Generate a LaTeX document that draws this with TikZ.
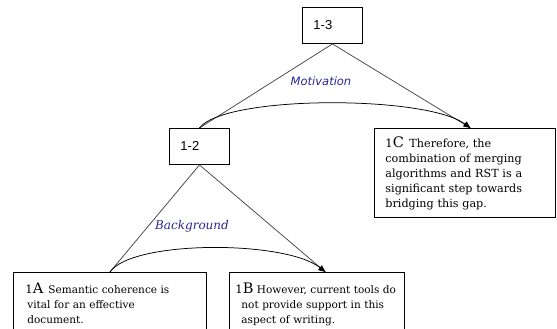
\documentclass[tikz,border=0pt]{standalone}
\usepackage{fontspec}
\setmainfont{DejaVu Serif}
\setsansfont{Liberation Sans}
\newfontfamily\relfont{DejaVu Sans}
\usetikzlibrary{arrows.meta}
\definecolor{relblue}{RGB}{38,38,150}
\definecolor{edgegray}{RGB}{70,70,70}
\tikzstyle{span}=[draw=black,line width=0.9pt,anchor=north west,align=left,text width=38pt,inner xsep=11pt,minimum height=36pt,font=\sffamily\fontsize{13}{13}\selectfont]
\tikzstyle{unit}=[draw=black,line width=0.9pt,anchor=north west,align=left,inner ysep=7pt,font=\fontsize{10.5}{15}\selectfont]
\tikzstyle{satedge}=[draw=edgegray,line width=0.75pt]
\tikzstyle{relarc}=[draw=black,line width=0.75pt,-{Triangle[length=7pt,width=6pt]}]
\tikzstyle{rel}=[text=relblue,inner sep=0pt]
\newcommand{\unitid}[2]{{\fontsize{11.5}{15}\selectfont#1}{\fontsize{14.5}{15}\selectfont #2}}

\begin{document}
\begin{tikzpicture}[x=1pt,y=-1pt]
\useasboundingbox (0,0) rectangle (557,329);
\clip (0,0) rectangle (557,329);
%spans
\node[span] (s13) at (302,7) {1-3};
\node[span] (s12) at (169,128) {1-2};
%units
\node[unit,text width=159pt,inner xsep=11pt,minimum height=89pt,font=\fontsize{11.2}{15}\selectfont] (u1c) at (374,128)
{\unitid{1}{C}\, Therefore, the\\
combination of merging\\
algorithms and RST is a\\
significant step towards\\
bridging this gap.};
\node[unit,text width=169pt,inner xsep=12pt,inner ysep=10pt,text depth=60pt] (u1a) at (13,272)
{\unitid{1}{A}\, Semantic coherence is\\
\hspace{2pt}vital for an effective\\
\hspace{2pt}document.};
\node[unit,text width=163pt,inner xsep=6pt,inner ysep=10pt,text depth=60pt] (u1b) at (229,272)
{\unitid{1}{B} However, current tools do\\
\hspace{6pt}not provide support in this\\
\hspace{6pt}aspect of writing.};
%edges
\draw[satedge] (s13.south) -- (s12.north);
\draw[satedge] (s13.south) -- ([xshift=5.5pt]u1c.north);
\draw[satedge] (s12.south) -- (u1a.north);
\draw[satedge] (s12.south) -- ([xshift=8.5pt]u1b.north);
%relations
\draw[relarc] (s12.north) .. controls +(25,-33) and +(-45,-33) .. ([xshift=5.5pt]u1c.north);
\draw[relarc] (u1a.north) .. controls +(22,-32) and +(-40,-32) .. ([xshift=8.5pt]u1b.north);
\node[rel,font=\relfont\itshape\fontsize{11.5}{11.5}\selectfont] (motiv) at (321,81) {Motivation};
\node[rel,font=\itshape\fontsize{12}{12}\selectfont] (backg) at (192,226) {Background};
\end{tikzpicture}
\end{document}
